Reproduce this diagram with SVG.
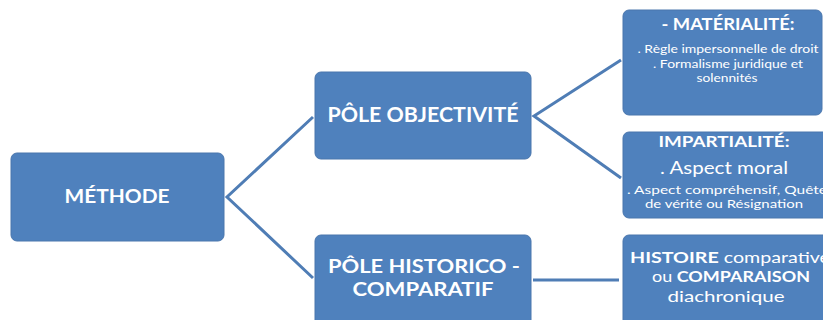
<svg xmlns="http://www.w3.org/2000/svg" width="823" height="320" viewBox="0 0 823 320">
<style>
.box{fill:#4F81BD;stroke:#4a76ad;stroke-width:1}
.t{font-family:Lato,"Open Sans","Liberation Sans",sans-serif;fill:#fff;text-anchor:middle}
.b{font-weight:bold}
.c{fill:none;stroke:#4F7DB5;stroke-width:3}
</style>
<rect width="823" height="320" fill="#fff"/>
<g id="connectors">
<path class="c" d="M313,117 L227,197 L313,278"/>
<path class="c" d="M621,60 L534,116 L621,178"/>
<path class="c" d="M533,280 L619,280"/>
</g>
<g id="methode">
<rect class="box" x="11" y="153" width="213" height="88" rx="6"/>
<text class="t b" x="117" y="203" font-size="18.5" textLength="105" lengthAdjust="spacingAndGlyphs">MÉTHODE</text>
</g>
<g id="pole-objectivite">
<rect class="box" x="315" y="72" width="216" height="87" rx="6"/>
<text class="t b" x="423" y="122" font-size="20" textLength="191" lengthAdjust="spacingAndGlyphs">PÔLE OBJECTIVITÉ</text>
</g>
<g id="pole-historico">
<rect class="box" x="315" y="235" width="216" height="92" rx="6"/>
<text class="t b" x="424" y="273" font-size="19" textLength="192" lengthAdjust="spacingAndGlyphs">PÔLE HISTORICO -</text>
<text class="t b" x="423" y="296" font-size="19" textLength="141" lengthAdjust="spacingAndGlyphs">COMPARATIF</text>
</g>
<g id="materialite">
<rect class="box" x="623" y="10" width="199" height="105" rx="6"/>
<text class="t b" x="728" y="30" font-size="17" textLength="133" lengthAdjust="spacingAndGlyphs">- MATÉRIALITÉ:</text>
<text class="t" x="728" y="53" font-size="10.5" textLength="181" lengthAdjust="spacingAndGlyphs">. Règle impersonnelle de droit</text>
<text class="t" x="728" y="68" font-size="10.5" textLength="150" lengthAdjust="spacingAndGlyphs">. Formalisme juridique et</text>
<text class="t" x="727" y="82" font-size="10.5" textLength="61" lengthAdjust="spacingAndGlyphs">solennités</text>
</g>
<g id="impartialite">
<rect class="box" x="623" y="132" width="210" height="86" rx="6"/>
<text class="t b" x="724" y="147" font-size="16" textLength="131" lengthAdjust="spacingAndGlyphs">IMPARTIALITÉ:</text>
<text class="t" x="724" y="174" font-size="17" textLength="128" lengthAdjust="spacingAndGlyphs">.  Aspect moral</text>
<text class="t" x="727" y="194" font-size="11.5" textLength="200" lengthAdjust="spacingAndGlyphs">. Aspect compréhensif, Quête</text>
<text class="t" x="724" y="208" font-size="11.5" textLength="158" lengthAdjust="spacingAndGlyphs">de vérité ou Résignation</text>
</g>
<g id="histoire">
<rect class="box" x="623" y="235" width="210" height="92" rx="6"/>
<text class="t" x="730" y="263" font-size="15" textLength="200" lengthAdjust="spacingAndGlyphs"><tspan class="b">HISTOIRE</tspan> comparative</text>
<text class="t" x="731" y="282" font-size="15" textLength="158" lengthAdjust="spacingAndGlyphs">ou <tspan class="b">COMPARAISON</tspan></text>
<text class="t" x="726" y="302" font-size="15" textLength="117" lengthAdjust="spacingAndGlyphs">diachronique</text>
</g>
</svg>
